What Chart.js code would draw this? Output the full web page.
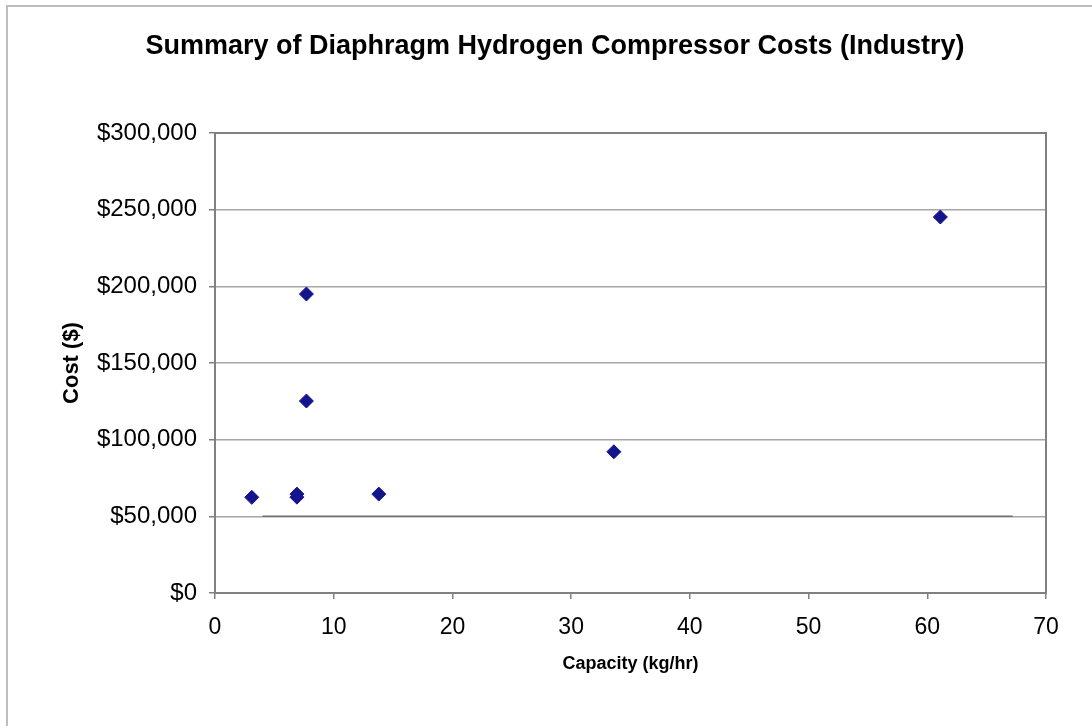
<!DOCTYPE html>
<html>
<head>
<meta charset="utf-8">
<script src="https://cdn.jsdelivr.net/npm/chart.js@4/dist/chart.umd.min.js"></script>
<style>
    body { margin: 0; background: #fff; }
    #wrap { position: relative; width: 1092px; height: 726px; overflow: hidden; }
    #frame { position: absolute; left: 6px; top: 5px; width: 1200px; height: 800px;
             border-left: 2px solid #bdbdbd; border-top: 2px solid #bdbdbd; }
    #title { position: absolute; left: 18px; width: 1074px; top: 30px; line-height: 27px;
             text-align: center; font: bold 27px "Liberation Sans", Arial, sans-serif; color: #000; }
    canvas { position: absolute; left: 0; top: 0; }
</style>
</head>
<body>
<div id="wrap">
    <div id="frame"></div>
    <canvas id="costChart" width="1092" height="726"></canvas>
    <div id="title">Summary of Diaphragm Hydrogen Compressor Costs (Industry)</div>
</div>
<script>
    // Capacity (kg/hr) and cost ($) for each compressor
    const capacity = [3.1, 6.9, 6.9, 7.7, 7.7, 13.8, 33.6, 61.1];
    const cost = [62400, 62500, 64500, 195000, 125200, 64500, 92100, 245200];

    const xTicks = [0, 10, 20, 30, 40, 50, 60, 70];
    const yTicks = [0, 50000, 100000, 150000, 200000, 250000, 300000];

    // darker stretch of the $50,000 gridline in the original
    const darkLineX = [4.0, 67.2];
    const darkLineY = 50000;

    const font = 'Liberation Sans, Arial, sans-serif';

    const frameBox = {
        id: 'frameBox',
        beforeDatasetsDraw(chart) {
            const { ctx, chartArea: a, scales: { x, y } } = chart;
            ctx.save();
            ctx.strokeStyle = '#6e6e6e';
            ctx.lineWidth = 1.5;
            const py = y.getPixelForValue(darkLineY);
            ctx.beginPath();
            ctx.moveTo(x.getPixelForValue(darkLineX[0]), py);
            ctx.lineTo(x.getPixelForValue(darkLineX[1]), py);
            ctx.stroke();
            ctx.lineWidth = 2;
            ctx.strokeStyle = '#808080';
            ctx.strokeRect(a.left, a.top, a.right - a.left, a.bottom - a.top);
            ctx.restore();
        }
    };

    new Chart(document.getElementById('costChart'), {
        type: 'scatter',
        data: {
            datasets: [{
                label: 'Cost',
                data: capacity.map((c, i) => ({ x: c, y: cost[i] })),
                backgroundColor: '#14148c',
                borderColor: '#14148c',
                borderWidth: 1,
                pointStyle: 'rectRot',
                pointRadius: 7,
                pointHoverRadius: 7
            }]
        },
        options: {
            responsive: false,
            animation: false,
            layout: { padding: { top: 133, right: 46, bottom: 0, left: 0 } },
            plugins: {
                legend: { display: false },
                tooltip: { enabled: false }
            },
            scales: {
                x: {
                    type: 'linear',
                    min: 0,
                    max: 70,
                    afterBuildTicks: axis => { axis.ticks = xTicks.map(v => ({ value: v })); },
                    afterFit: axis => { axis.height = 133; },
                    grid: { drawOnChartArea: false, drawTicks: true, tickLength: 6, color: '#808080', lineWidth: 1.5 },
                    border: { color: '#808080', width: 2 },
                    ticks: { color: '#000', font: { family: font, size: 23 }, padding: 15, maxRotation: 0 },
                    title: {
                        display: true,
                        text: 'Capacity (kg/hr)',
                        color: '#000',
                        font: { family: font, size: 18, weight: 'bold' },
                        padding: { top: 0, bottom: 51 }
                    }
                },
                y: {
                    min: 0,
                    max: 300000,
                    afterBuildTicks: axis => { axis.ticks = yTicks.map(v => ({ value: v })); },
                    afterFit: axis => { axis.width = 215; },
                    grid: { color: '#a6a6a6', lineWidth: 1.5, tickColor: '#808080', tickLength: 6 },
                    border: { color: '#808080', width: 2 },
                    ticks: {
                        color: '#000',
                        font: { family: font, size: 24 },
                        padding: 12,
                        callback: v => '$' + v.toLocaleString('en-US')
                    },
                    title: {
                        display: true,
                        text: 'Cost ($)',
                        color: '#000',
                        font: { family: font, size: 22, weight: 'bold' },
                        padding: { top: 59, bottom: 0 }
                    }
                }
            }
        },
        plugins: [frameBox]
    });
</script>
</body>
</html>
